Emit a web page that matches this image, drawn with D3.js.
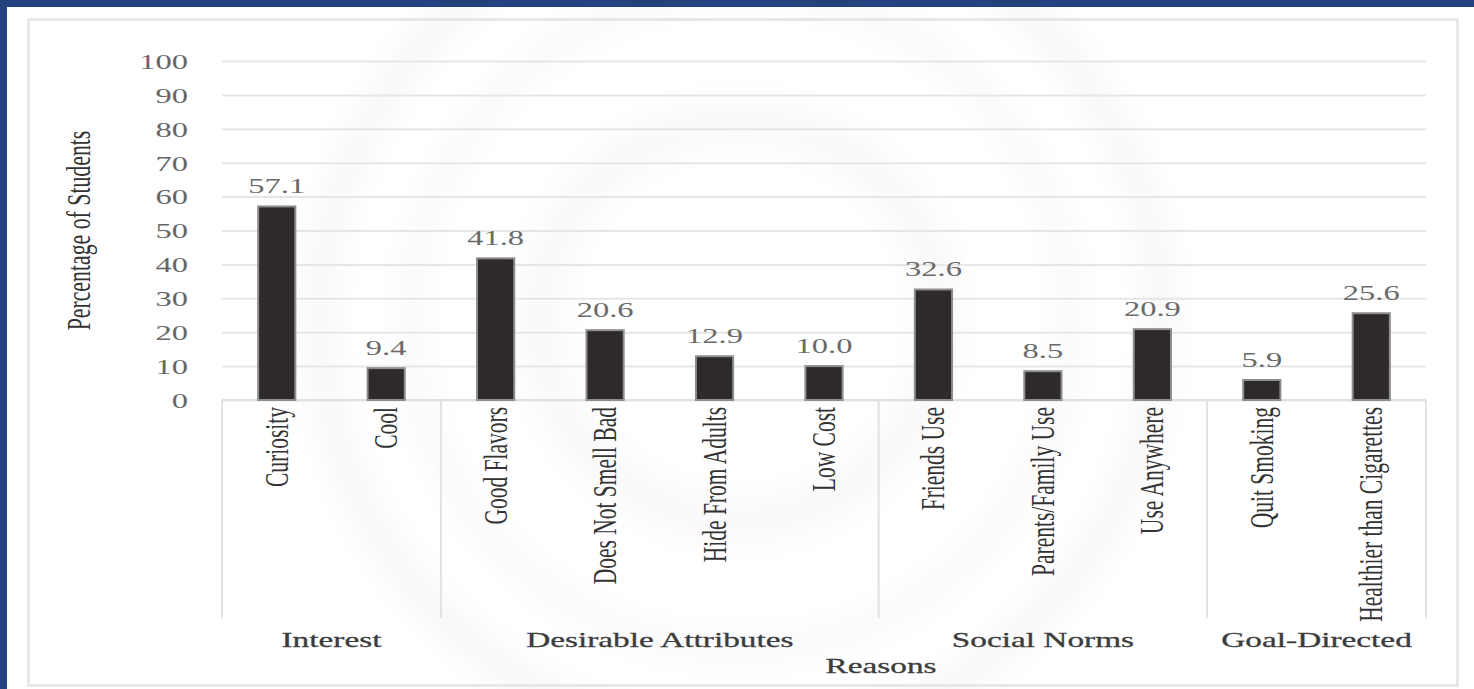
<!DOCTYPE html>
<html>
<head>
<meta charset="utf-8">
<script src="https://cdn.jsdelivr.net/npm/d3@7"></script>
<style>
  html, body { margin: 0; padding: 0; background: #ffffff; }
  svg { display: block; }
  text { font-family: "Liberation Serif", "Times New Roman", serif; }
</style>
</head>
<body>
<svg id="chart" width="1474" height="689"></svg>
<script>
// Reasons for e-cigarette use, grouped by theme
const groups = ["Interest", "Desirable Attributes", "Social Norms", "Goal-Directed"];
const categories = [
  "Curiosity", "Cool",
  "Good Flavors", "Does Not Smell Bad", "Hide From Adults", "Low Cost",
  "Friends Use", "Parents/Family Use", "Use Anywhere",
  "Quit Smoking", "Healthier than Cigarettes"
];
const categoryGroup = [
  "Interest", "Interest",
  "Desirable Attributes", "Desirable Attributes", "Desirable Attributes", "Desirable Attributes",
  "Social Norms", "Social Norms", "Social Norms",
  "Goal-Directed", "Goal-Directed"
];
const values = [57.1, 9.4, 41.8, 20.6, 12.9, 10.0, 32.6, 8.5, 20.9, 5.9, 25.6];
const yTicks = [0, 10, 20, 30, 40, 50, 60, 70, 80, 90, 100];
const yTitle = "Percentage of Students";
const xTitle = "Reasons";

const W = 1474, H = 689;
const plot = { left: 222, right: 1426, top: 61, bottom: 400 };
const catAxisBottom = 618;
const SX = 1.55; // wide glyph rendering

const svg = d3.select("#chart");

// frame: blue edge along the top and left, white panel
svg.append("rect").attr("x", 0).attr("y", 0).attr("width", W).attr("height", H).attr("fill", "#24437e");
svg.append("rect").attr("x", 7).attr("y", 7).attr("width", W - 7).attr("height", H - 7).attr("fill", "#ffffff");

// faint seal in the background
const defs = svg.append("defs");
defs.append("filter").attr("id", "soft").attr("x", "-20%").attr("y", "-20%").attr("width", "140%").attr("height", "140%")
  .append("feGaussianBlur").attr("stdDeviation", 14);
const seal = svg.append("g").attr("filter", "url(#soft)").attr("fill", "none").attr("stroke", "#000");
seal.append("circle").attr("cx", 740).attr("cy", 320).attr("r", 420).attr("stroke-width", 30).attr("stroke-opacity", 0.03);
seal.append("circle").attr("cx", 740).attr("cy", 320).attr("r", 330).attr("stroke-width", 22).attr("stroke-opacity", 0.028);
seal.append("circle").attr("cx", 740).attr("cy", 320).attr("r", 200).attr("stroke-width", 44).attr("stroke-opacity", 0.022);

// chart area border
svg.append("rect").attr("x", 28.5).attr("y", 19.5).attr("width", 1429).attr("height", 666)
  .attr("fill", "none").attr("stroke", "#e4e4e4").attr("stroke-width", 2.5);

// scales
const x = d3.scaleBand().domain(categories).range([plot.left, plot.right]).paddingInner(0.66).paddingOuter(0.33);
const y = d3.scaleLinear().domain([0, 100]).range([plot.bottom, plot.top]);

// horizontal gridlines from the value axis
const yAxis = svg.append("g").attr("transform", `translate(${plot.left},0)`)
  .call(d3.axisLeft(y).tickValues(yTicks).tickSize(-(plot.right - plot.left)).tickFormat(d3.format("d")).tickPadding(0));
yAxis.select(".domain").remove();
yAxis.selectAll(".tick line").attr("stroke", "#e6e6e6").attr("stroke-width", 2);
yAxis.selectAll(".tick text")
  .attr("x", 0).attr("dy", "0.35em")
  .attr("transform", `translate(-34,0) scale(${SX},1)`)
  .attr("text-anchor", "end")
  .attr("font-size", 21).attr("fill", "#666");

// category axis line and group separators
svg.append("line").attr("x1", plot.left).attr("x2", plot.right).attr("y1", plot.bottom).attr("y2", plot.bottom)
  .attr("stroke", "#e0e0e0").attr("stroke-width", 2);
const half = (x.step() - x.bandwidth()) / 2;
const groupSpans = groups.map(g => {
  const cats = categories.filter((c, i) => categoryGroup[i] === g);
  return { name: g, x0: x(cats[0]) - half, x1: x(cats[cats.length - 1]) + x.bandwidth() + half };
});
const seps = [groupSpans[0].x0].concat(groupSpans.map(s => s.x1));
svg.append("g").selectAll("line").data(seps).join("line")
  .attr("x1", d => d).attr("x2", d => d).attr("y1", plot.bottom).attr("y2", catAxisBottom)
  .attr("stroke", "#e2e2e2").attr("stroke-width", 2);

// bars
svg.append("g").selectAll("rect").data(values).join("rect")
  .attr("x", (d, i) => x(categories[i]))
  .attr("y", d => y(d))
  .attr("width", x.bandwidth())
  .attr("height", d => y(0) - y(d))
  .attr("fill", "#2e2a2a")
  .attr("stroke", "#8e8e8e").attr("stroke-width", 2);

// value labels
svg.append("g").selectAll("text").data(values).join("text")
  .attr("transform", (d, i) => `translate(${x(categories[i]) + x.bandwidth() / 2},${y(d) - 13}) scale(${SX},1)`)
  .attr("text-anchor", "middle")
  .attr("font-size", 21).attr("fill", "#6a6a6a")
  .text(d => d.toFixed(1));

// rotated category labels
svg.append("g").selectAll("text").data(categories).join("text")
  .attr("transform", d => `translate(${x(d) + x.bandwidth() / 2},${plot.bottom + 7}) scale(${SX},1) rotate(-90)`)
  .attr("text-anchor", "end").attr("dy", "0.33em")
  .attr("font-size", 21.5).attr("fill", "#333")
  .text(d => d);

// group labels
svg.append("g").selectAll("text").data(groupSpans).join("text")
  .attr("transform", d => `translate(${(d.x0 + d.x1) / 2},647) scale(${SX},1)`)
  .attr("text-anchor", "middle")
  .attr("font-size", 21.5).attr("fill", "#3c3c3c").attr("stroke", "#3c3c3c").attr("stroke-width", 0.3)
  .text(d => d.name);

// axis titles
svg.append("text")
  .attr("transform", `translate(881,673) scale(${SX},1)`)
  .attr("text-anchor", "middle")
  .attr("font-size", 21.5).attr("fill", "#3c3c3c").attr("stroke", "#3c3c3c").attr("stroke-width", 0.3)
  .text(xTitle);

svg.append("text")
  .attr("transform", `translate(79,${(plot.top + plot.bottom) / 2}) scale(${SX},1) rotate(-90)`)
  .attr("text-anchor", "middle").attr("dy", "0.33em")
  .attr("font-size", 21.8).attr("fill", "#333")
  .text(yTitle);
</script>
</body>
</html>
